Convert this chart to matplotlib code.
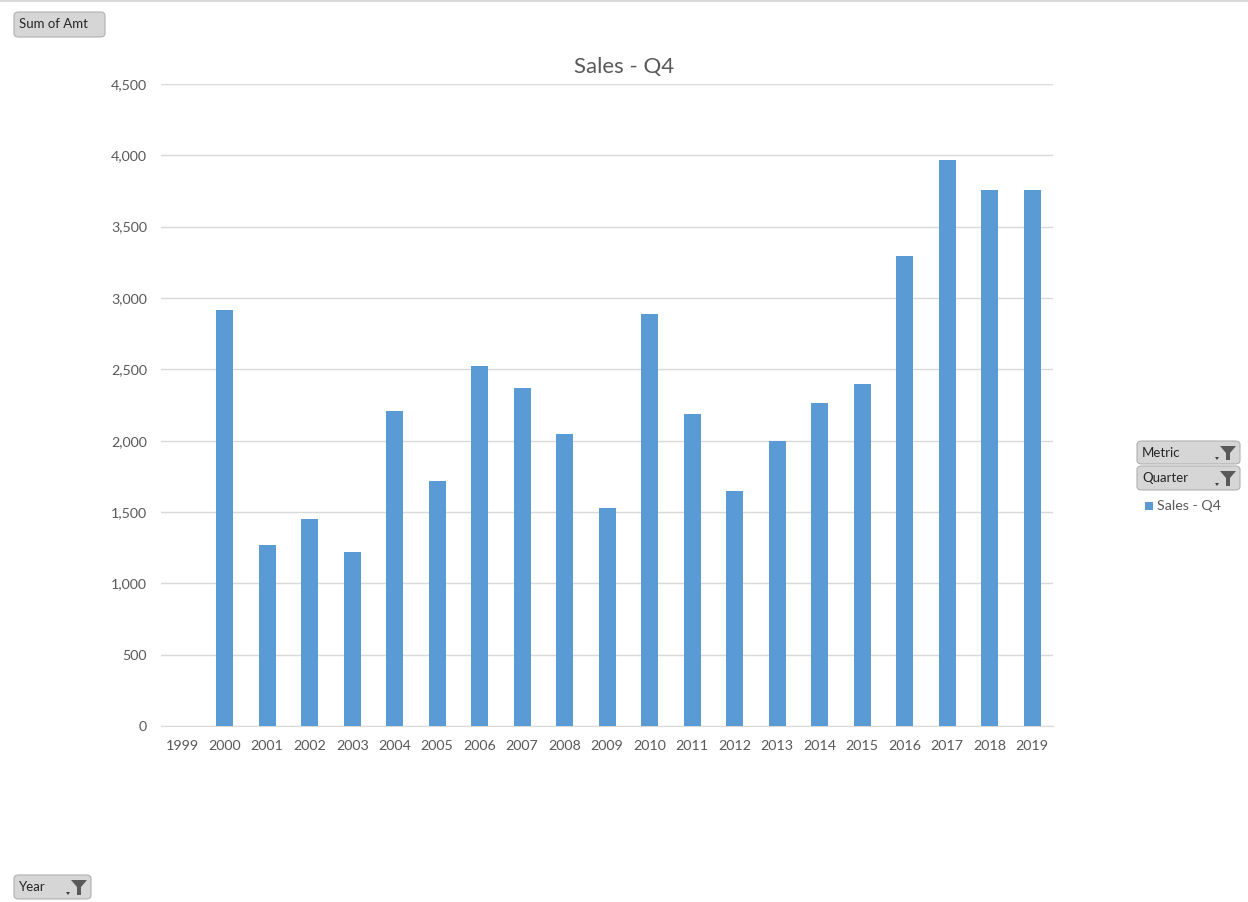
import matplotlib.pyplot as plt
from matplotlib.patches import FancyBboxPatch, Polygon, Rectangle
from matplotlib.ticker import FuncFormatter

years = [str(y) for y in range(1999, 2020)]
sales_q4 = [0, 2916, 1269, 1451, 1220, 2208, 1717, 2523, 2369, 2047, 1528,
            2888, 2187, 1647, 1998, 2264, 2397, 3294, 3967, 3757, 3757]

BLUE = '#5B9BD5'
TEXT = '#595959'
GRID = '#D9D9D9'

plt.rcParams['font.family'] = ['Lato', 'DejaVu Sans']

fig = plt.figure(figsize=(12.48, 9.02), dpi=100)
ax = fig.add_axes([0.129, 0.1951, 0.715, 0.7118])

ax.bar(range(len(years)), sales_q4, width=0.4, color=BLUE, zorder=3)
ax.set_xlim(-0.5, len(years) - 0.5)
ax.set_ylim(0, 4500)
ax.set_yticks(range(0, 4501, 500))
ax.yaxis.set_major_formatter(FuncFormatter(lambda v, p: f'{int(v):,}'))
ax.set_xticks(range(len(years)))
ax.set_xticklabels(years)
ax.grid(axis='y', color=GRID, linewidth=1, zorder=0)
for s in ['top', 'right', 'left']:
    ax.spines[s].set_visible(False)
ax.spines['bottom'].set_color(GRID)
ax.tick_params(axis='both', length=0, colors=TEXT, labelsize=10.3)
ax.tick_params(axis='y', pad=10)
ax.tick_params(axis='x', pad=10)

W, H = 1248, 902

# chart title is centred on the whole chart area, not the plot area
fig.text(624 / W, 1 - 67 / H, 'Sales - Q4', color=TEXT, fontsize=16,
         ha='center', va='center')


def button(x0, y0, x1, y1, label, funnel=False):
    # pivot field button, pixel coords from top-left
    fx, fy = x0 / W, 1 - y1 / H
    fw, fh = (x1 - x0) / W, (y1 - y0) / H
    fig.patches.append(FancyBboxPatch((fx, fy), fw, fh,
                                      boxstyle='round,pad=0,rounding_size=0.004',
                                      transform=fig.transFigure,
                                      facecolor='#D6D6D6', edgecolor='#B0B0B0',
                                      linewidth=0.8))
    fig.text((x0 + 5) / W, 1 - (y0 + y1) / 2 / H, label, fontsize=9.5,
             color='#262626', va='center', ha='left')
    if funnel:
        cx = x1 - 12
        top = y0 + 5
        pts = [(cx - 8, top), (cx + 8, top), (cx + 2, top + 7),
               (cx + 2, y1 - 4), (cx - 2, y1 - 4), (cx - 2, top + 7)]
        fig.patches.append(Polygon([(px / W, 1 - py / H) for px, py in pts],
                                   closed=True, transform=fig.transFigure,
                                   facecolor='#595959', edgecolor='none'))
        # small dropdown mark beside the funnel
        fig.patches.append(Polygon([((x1 - 25) / W, 1 - (y1 - 7) / H),
                                    ((x1 - 21) / W, 1 - (y1 - 7) / H),
                                    ((x1 - 23) / W, 1 - (y1 - 4) / H)],
                                   closed=True, transform=fig.transFigure,
                                   facecolor='#404040', edgecolor='none'))


button(14, 12, 105, 37, 'Sum of Amt')
button(1137, 441, 1240, 464, 'Metric', funnel=True)
button(1137, 466, 1240, 490, 'Quarter', funnel=True)
button(14, 875, 91, 899, 'Year', funnel=True)

# legend entry
fig.patches.append(Rectangle((1145 / W, 1 - 510 / H), 8 / W, 8 / H,
                             transform=fig.transFigure, facecolor=BLUE,
                             edgecolor='none'))
fig.text(1157 / W, 1 - 506 / H, 'Sales - Q4', fontsize=10.3, color=TEXT,
         va='center', ha='left')

# outer chart border along the top
fig.add_artist(plt.Line2D([0, 1], [1 - 1 / H, 1 - 1 / H], color=GRID,
                          linewidth=1.5, transform=fig.transFigure))

fig.savefig('out.png', dpi=100, facecolor='white')
